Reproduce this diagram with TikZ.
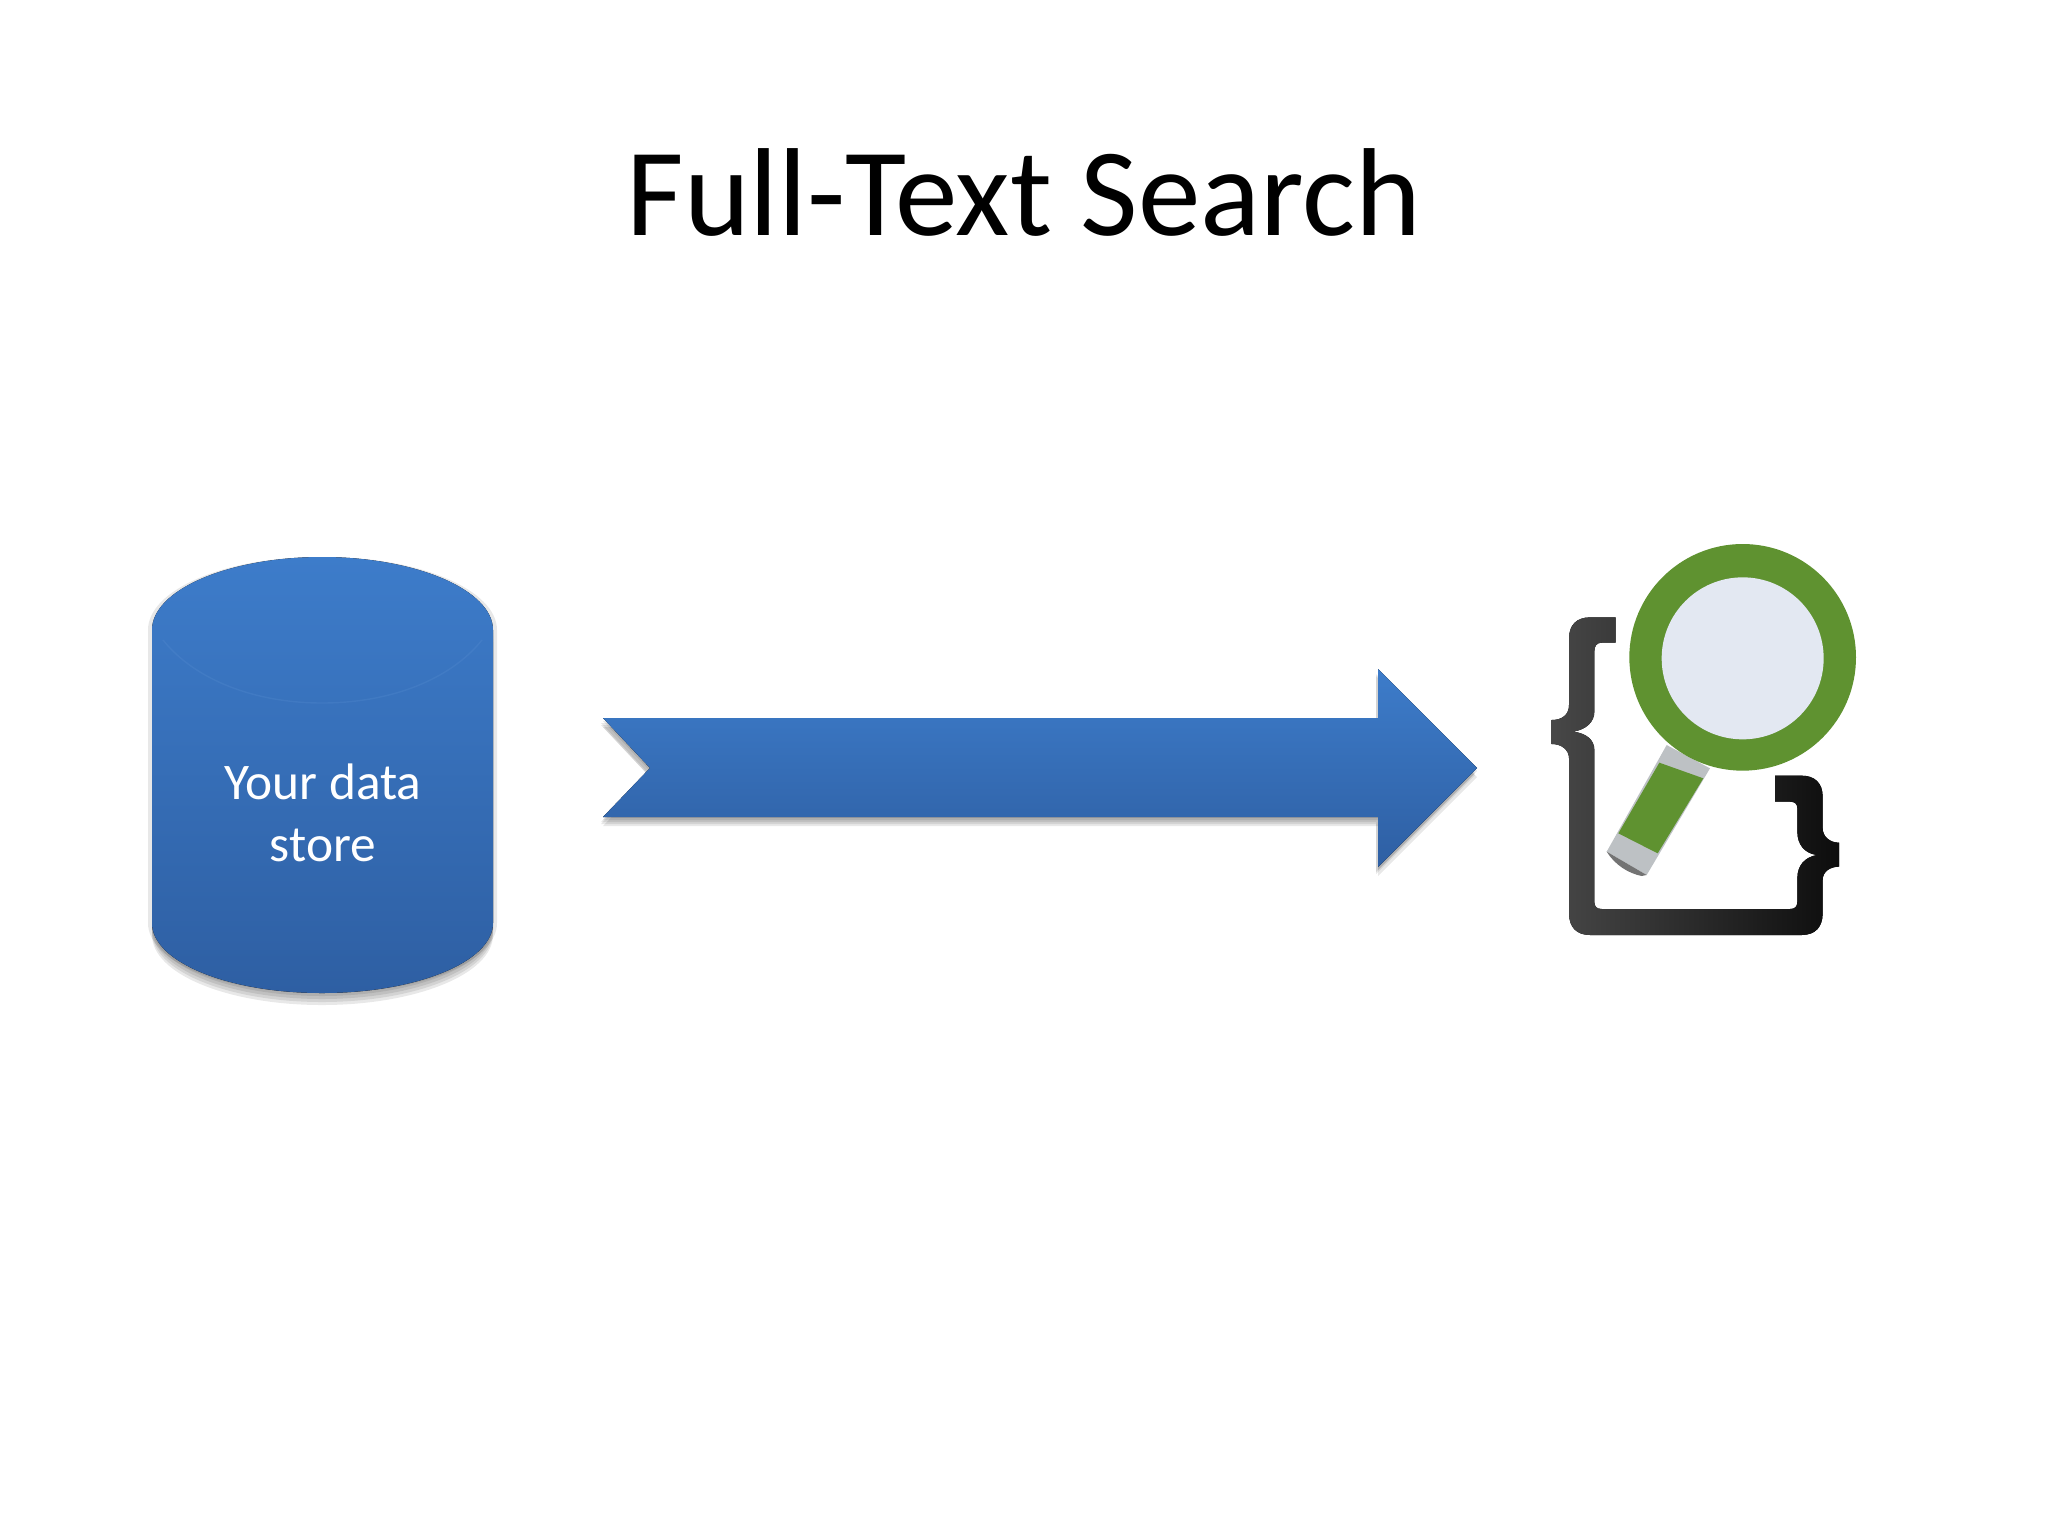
\documentclass[tikz,border=0pt]{standalone}
\usepackage{fontspec}
\setmainfont{Carlito}
\usepackage{pgf, tikz}
\definecolor{blueTop}{HTML}{3D7CCA}
\definecolor{blueBot}{HTML}{2E5FA3}
\definecolor{lensGreen}{HTML}{5F9230}
\definecolor{lensGlass}{HTML}{E3E8F2}
\definecolor{collarGrey}{HTML}{BDC1C4}
\newcommand{\storeoutline}{(152,630) .. controls (152,590) and (228,557) .. (322,557)
    .. controls (416,557) and (493,590) .. (493,630) -- (493,923)
    .. controls (493,962) and (416,993) .. (322,993)
    .. controls (228,993) and (152,962) .. (152,923) -- cycle}
\newcommand{\arrowoutline}{(603,718) -- (1378,718) -- (1378,669) -- (1477,768)
    -- (1378,867) -- (1378,817) -- (603,817) -- (650,768) -- cycle}
\begin{document}
\begin{tikzpicture}[
            x = 0.01cm, % one unit is one pixel of the slide
            y = -0.01cm,
            blueshape/.style = {top color = blueTop, bottom color = blueBot},
            softshadow/.style = {fill = black, opacity = 0.09},
            whitetext/.style = {text = white, font = \fontsize{14.6}{17.6}\selectfont, align = center},
        ]

        \useasboundingbox (0,0) rectangle (2048,1536);

        \node[font = \fontsize{35.6}{40}\selectfont] (title) at (1024,192) {Full-Text Search};

        % data store
        \fill[softshadow, xshift = 0.04cm] \storeoutline;
        \fill[softshadow, xshift = -0.04cm] \storeoutline;
        \fill[softshadow, yshift = -0.03cm] \storeoutline;
        \fill[softshadow, yshift = -0.06cm] \storeoutline;
        \fill[softshadow, yshift = -0.09cm] \storeoutline;
        \fill[softshadow, yshift = -0.12cm] \storeoutline;
        \fill[blueshape] \storeoutline;
        \draw[blueTop!85!white, opacity = 0.25] (163,640) .. controls (195,680) and (255,703) .. (322,703)
            .. controls (390,703) and (450,680) .. (482,640);
        \node[whitetext] (store) at (323,813) {Your data\\store};

        % big arrow
        \fill[softshadow, yshift = -0.03cm] \arrowoutline;
        \fill[softshadow, xshift = -0.02cm, yshift = -0.05cm] \arrowoutline;
        \fill[softshadow, xshift = -0.02cm, yshift = -0.07cm] \arrowoutline;
        \fill[softshadow, yshift = -0.09cm] \arrowoutline;
        \fill[blueshape] \arrowoutline;

        % search icon, drawn in the coordinates of a 3x crop
        \begin{scope}[shift = {(1500,520)}, scale = 1/3]
            \fill[left color = black!72, right color = black!95]
                (347,292) -- (270,292) .. controls (230,292) and (207,315) .. (207,355) -- (207,555)
                .. controls (207,585) and (185,600) .. (155,600) -- (155,672)
                .. controls (185,672) and (207,690) .. (207,715) -- (207,1180)
                .. controls (207,1222) and (230,1245) .. (270,1245) -- (905,1245)
                .. controls (945,1245) and (968,1222) .. (968,1180) -- (968,1080)
                .. controls (968,1055) and (990,1040) .. (1017,1040) -- (1017,968)
                .. controls (990,968) and (968,950) .. (968,925) -- (968,830)
                .. controls (968,790) and (945,767) .. (905,767) -- (825,767) -- (825,845) -- (870,845)
                .. controls (885,845) and (892,852) .. (892,865) -- (892,935)
                .. controls (892,975) and (915,1000) .. (950,1005)
                .. controls (915,1012) and (892,1035) .. (892,1075) -- (892,1145)
                .. controls (892,1160) and (885,1167) .. (870,1167) -- (305,1167)
                .. controls (290,1167) and (283,1160) .. (283,1145) -- (283,690)
                .. controls (283,660) and (260,640) .. (220,635)
                .. controls (260,628) and (283,605) .. (283,575) -- (283,395)
                .. controls (283,378) and (290,368) .. (305,368) -- (347,368) -- cycle;
            \fill[collarGrey] (500,675) -- (630,745) -- (440,1065) -- (320,995) -- cycle;
            \fill[black!55] (320,995) -- (440,1065) -- (425,1068) .. controls (385,1060) and (345,1035) .. (320,995) -- cycle;
            \fill[lensGreen] (478,728) -- (610,775) -- (473,1000) -- (355,940) -- cycle;
            \fill[lensGreen] (728,412) circle [radius = 340];
            \fill[lensGlass] (728,415) circle [radius = 243];
        \end{scope}
    \end{tikzpicture}
\end{document}
